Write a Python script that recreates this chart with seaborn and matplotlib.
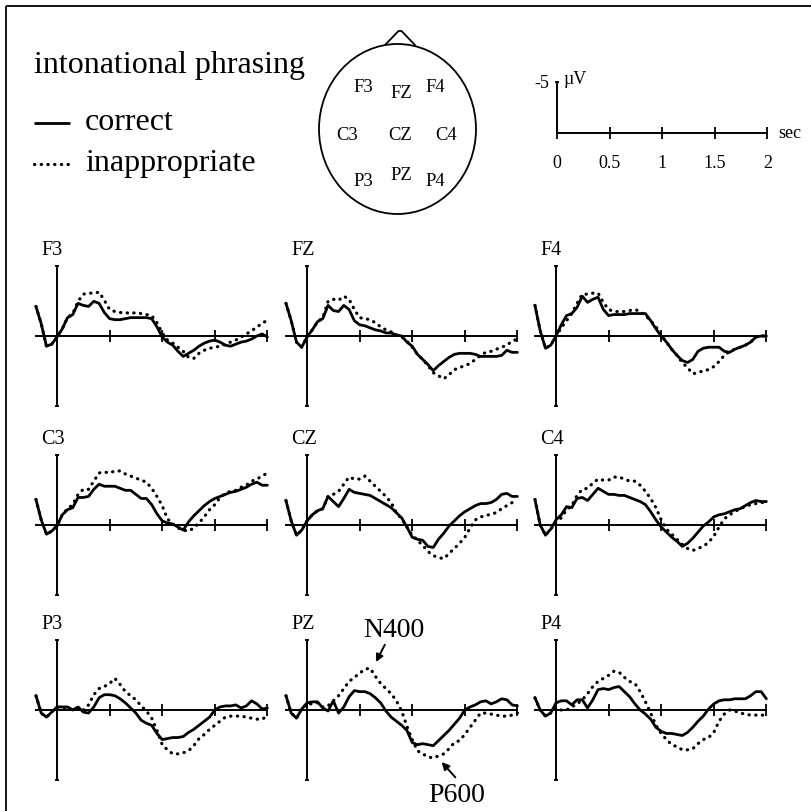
import numpy as np
import pandas as pd
import matplotlib
matplotlib.use('Agg')
import matplotlib.pyplot as plt
import seaborn as sns
from matplotlib.patches import Ellipse, Rectangle


sns.set_theme(style='white')
plt.rcParams['font.family'] = ['Liberation Serif', 'DejaVu Serif']
plt.rcParams.update({'text.color': 'black', 'xtick.color': 'black',
                     'ytick.color': 'black', 'axes.edgecolor': 'black'})

# time axis in seconds, one sample every 50 ms from -200 ms to 2 s
times = np.round(np.linspace(-0.2, 2.0, 45), 2)

# grand average amplitudes in microvolts (negative is plotted up)
f3_correct = [-2.9, -1.2, 1.0, 0.8, 0.1, -0.7, -1.8, -2.1, -3.2, -3.0, -2.9, -3.4, -3.2, -2.3, -1.7,
              -1.6, -1.6, -1.7, -1.8, -1.8, -1.8, -1.8, -1.7, -0.9, 0.1, 0.6, 0.9, 1.5, 2.0, 1.7,
              1.4, 1.0, 0.7, 0.5, 0.4, 0.6, 0.9, 1.0, 0.8, 0.6, 0.5, 0.3, 0.0, -0.2, 0.1]
f3_inapp = [-2.9, -1.2, 1.0, 0.8, 0.1, -0.7, -1.8, -2.2, -3.4, -4.1, -4.2, -4.2, -4.3, -3.5, -2.6,
            -2.4, -2.3, -2.3, -2.2, -2.3, -2.2, -2.1, -2.0, -1.3, -0.3, 0.4, 0.7, 1.1, 1.5, 2.1,
            2.2, 1.7, 1.4, 1.2, 1.1, 1.0, 0.8, 0.6, 0.4, 0.1, -0.2, -0.5, -0.9, -1.2, -1.6]
fz_correct = [-3.2, -1.5, 0.6, 1.1, 0.1, -0.6, -1.4, -1.7, -3.0, -2.5, -2.4, -3.0, -2.6, -1.5, -1.1,
              -1.0, -0.8, -0.6, -0.5, -0.3, -0.3, -0.1, 0.0, 0.6, 1.0, 1.8, 2.3, 2.8, 3.4, 2.9,
              2.5, 2.1, 1.8, 1.7, 1.7, 1.7, 1.8, 2.0, 2.0, 2.0, 2.0, 1.9, 1.4, 1.6, 1.6]
fz_inapp = [-3.2, -1.5, 0.6, 1.1, 0.1, -0.6, -1.4, -1.8, -3.4, -3.6, -3.5, -3.9, -3.6, -2.6, -1.8,
            -1.7, -1.6, -1.3, -0.9, -0.6, -0.4, -0.1, 0.1, 0.5, 1.1, 1.8, 2.3, 2.9, 3.6, 3.9,
            4.2, 3.8, 3.3, 3.1, 2.9, 2.7, 2.3, 1.9, 1.6, 1.5, 1.3, 1.1, 0.9, 0.5, 0.3]
f4_correct = [-3.0, -0.5, 1.2, 0.9, 0.0, -1.1, -2.0, -2.2, -2.8, -3.9, -3.3, -3.6, -3.8, -2.6, -2.0,
              -2.1, -2.1, -2.1, -2.2, -2.2, -2.2, -2.2, -1.5, -0.7, 0.0, 0.6, 1.3, 1.9, 2.4, 2.6,
              2.3, 1.5, 1.2, 1.1, 1.1, 1.1, 1.5, 1.6, 1.3, 1.1, 0.9, 0.6, 0.1, 0.0, 0.0]
f4_inapp = [-3.0, -0.5, 1.2, 0.9, 0.0, -0.8, -1.5, -2.2, -3.2, -4.1, -4.1, -4.2, -4.2, -3.3, -2.6,
            -2.4, -2.4, -2.4, -2.5, -2.6, -2.4, -2.0, -1.5, -0.9, -0.1, 0.6, 1.3, 1.9, 2.6, 3.1,
            3.7, 3.6, 3.4, 3.3, 3.0, 2.5, 1.9, 1.5, 1.3, 1.1, 0.9, 0.6, 0.1, 0.0, 0.0]
c3_correct = [-2.5, -0.5, 0.9, 0.6, 0.1, -1.0, -1.5, -1.7, -2.7, -2.7, -2.8, -3.5, -4.0, -3.8, -3.8,
              -3.8, -3.6, -3.4, -3.4, -3.0, -2.6, -2.6, -2.0, -1.1, -0.4, -0.2, -0.1, 0.2, 0.5, -0.3,
              -0.9, -1.4, -1.9, -2.3, -2.6, -2.8, -3.0, -3.2, -3.3, -3.5, -3.7, -4.0, -4.2, -3.9, -3.9]
c3_inapp = [-2.5, -0.5, 0.9, 0.6, 0.1, -1.0, -1.6, -2.0, -3.0, -3.5, -3.5, -4.3, -5.1, -5.2, -5.1,
            -5.3, -5.3, -5.0, -4.8, -4.6, -4.4, -4.2, -3.6, -2.8, -1.9, -0.6, -0.1, 0.3, 0.5, 0.6,
            0.3, -0.2, -0.8, -1.5, -2.0, -2.7, -3.1, -3.3, -3.4, -3.7, -3.9, -4.3, -4.5, -4.8, -5.1]
cz_correct = [-2.4, -0.4, 1.0, 0.5, -0.4, -1.0, -1.4, -1.6, -2.8, -2.3, -1.8, -2.6, -3.5, -3.2, -3.1,
              -3.0, -2.9, -2.6, -2.3, -2.0, -1.7, -1.2, -0.7, 0.2, 1.2, 1.4, 1.5, 2.1, 2.2, 1.4,
              0.8, 0.1, -0.4, -0.9, -1.3, -1.6, -1.9, -2.1, -2.1, -2.2, -2.5, -3.0, -3.1, -2.8, -2.8]
cz_inapp = [-2.4, -0.4, 1.0, 0.5, -0.4, -1.0, -1.4, -1.6, -2.8, -3.0, -3.3, -4.0, -4.7, -4.5, -4.5,
            -4.8, -4.3, -3.8, -3.3, -2.8, -2.2, -1.2, -0.6, 0.2, 1.0, 1.5, 2.0, 2.6, 3.0, 3.2,
            3.3, 2.8, 2.3, 1.8, 1.2, 0.3, -0.5, -0.8, -0.9, -1.1, -1.2, -1.6, -1.9, -2.2, -2.2]
c4_correct = [-2.5, 0.0, 1.0, 0.4, -0.5, -1.0, -1.8, -1.7, -2.6, -2.7, -2.4, -3.0, -3.6, -3.3, -3.0,
              -3.0, -2.9, -2.9, -2.7, -2.5, -2.3, -2.0, -1.3, -0.5, 0.2, 0.7, 1.2, 1.6, 2.1, 1.8,
              1.3, 0.7, 0.1, -0.3, -0.8, -1.0, -1.1, -1.3, -1.5, -1.6, -1.9, -2.2, -2.4, -2.3, -2.3]
c4_inapp = [-2.5, 0.0, 1.0, 0.4, -0.3, -0.7, -1.5, -1.9, -2.9, -3.5, -3.6, -4.1, -4.5, -4.4, -4.4,
            -4.7, -4.7, -4.5, -4.3, -4.3, -3.9, -3.3, -2.6, -1.7, -0.5, 0.4, 0.9, 1.4, 1.9, 2.3,
            2.5, 2.3, 2.1, 1.7, 1.1, 0.2, -0.6, -1.0, -1.3, -1.6, -1.8, -2.0, -2.1, -2.2, -2.2]
p3_correct = [-1.4, 0.3, 0.7, 0.2, -0.3, -0.3, -0.3, 0.0, -0.3, 0.2, 0.3, -0.3, -1.2, -1.5, -1.5,
              -1.4, -1.1, -0.7, -0.2, 0.3, 1.0, 1.3, 1.5, 2.3, 2.9, 2.8, 2.7, 2.7, 2.6, 2.2,
              1.9, 1.5, 1.1, 0.7, 0.0, -0.3, -0.4, -0.4, -0.5, -0.2, -0.4, -0.9, -0.6, -0.1, -0.2]
p3_inapp = [-1.4, 0.3, 0.7, 0.2, -0.3, -0.2, -0.2, 0.0, -0.2, 0.0, -0.5, -1.5, -2.1, -2.3, -2.6,
            -3.1, -2.5, -1.8, -1.4, -1.0, -0.4, 0.1, 0.8, 2.0, 3.4, 3.9, 4.3, 4.3, 4.2, 4.0,
            3.5, 2.8, 2.4, 1.9, 1.5, 1.1, 0.7, 0.6, 0.6, 0.6, 0.7, 0.8, 0.9, 0.9, 0.6]
pz_correct = [-1.4, 0.3, 0.8, -0.1, -0.7, -0.8, -0.8, -0.2, 0.1, -0.9, 0.3, -0.3, -1.3, -1.9, -1.8,
              -1.8, -1.6, -1.2, -0.7, 0.1, 0.7, 1.1, 1.5, 2.0, 3.2, 3.4, 3.3, 3.4, 3.5, 3.0,
              2.5, 2.0, 1.4, 0.8, 0.0, -0.3, -0.5, -0.8, -0.9, -0.6, -0.8, -1.1, -1.0, -0.5, -0.4]
pz_inapp = [-1.4, 0.3, 0.8, -0.1, -0.6, -0.6, -0.7, -0.3, -0.4, -0.9, -1.4, -2.1, -2.8, -3.2, -3.6,
            -4.0, -4.1, -3.3, -2.6, -2.1, -1.6, -0.9, 0.1, 1.6, 2.9, 4.0, 4.3, 4.6, 4.7, 4.5,
            4.3, 3.8, 3.2, 3.0, 2.4, 1.7, 1.0, 0.3, 0.3, 0.4, 0.5, 0.6, 0.6, 0.5, 0.3]
p4_correct = [-1.2, 0.0, 0.6, 0.3, -0.7, -0.9, -0.9, -0.5, -1.0, -1.0, -0.2, -1.0, -2.0, -2.1, -2.0,
              -2.2, -2.3, -1.8, -1.3, -0.6, 0.0, 0.4, 0.9, 1.7, 2.1, 2.3, 2.3, 2.4, 2.5, 2.2,
              1.7, 1.1, 0.6, -0.1, -0.6, -0.9, -1.0, -1.0, -1.1, -1.1, -1.1, -1.4, -1.8, -1.8, -1.1]
p4_inapp = [-1.2, 0.0, 0.6, 0.3, -0.2, 0.0, 0.0, -0.3, -0.6, -1.0, -1.6, -2.3, -2.8, -3.1, -3.4,
            -3.8, -3.7, -3.2, -2.8, -2.6, -1.8, -0.8, 0.3, 1.5, 2.3, 2.9, 3.4, 3.6, 3.9, 3.9,
            3.8, 3.3, 2.9, 2.7, 2.2, 1.1, 0.4, 0.0, 0.1, 0.3, 0.4, 0.5, 0.5, 0.5, 0.5]

electrodes = ['F3', 'FZ', 'F4', 'C3', 'CZ', 'C4', 'P3', 'PZ', 'P4']
correct = [f3_correct, fz_correct, f4_correct, c3_correct, cz_correct, c4_correct,
           p3_correct, pz_correct, p4_correct]
inappropriate = [f3_inapp, fz_inapp, f4_inapp, c3_inapp, cz_inapp, c4_inapp,
                 p3_inapp, pz_inapp, p4_inapp]
conditions = ['correct', 'inappropriate']

scale_ticks = [0, 0.5, 1, 1.5, 2]
scale_labels = ['0', '0.5', '1', '1.5', '2']
panel_ticks = [0.5, 1.0, 1.5, 2.0]

# long table for seaborn
rows = []
for name, cor, inap in zip(electrodes, correct, inappropriate):
    for cond, vals in zip(conditions, [cor, inap]):
        for t, v in zip(times, vals):
            rows.append((name, cond, t, v))
df = pd.DataFrame(rows, columns=['electrode', 'condition', 'time', 'amplitude'])

# layout (pixels)
W = H = 811
PX_S = 105.2    # pixels per second
PX_UV = 10.2    # pixels per microvolt
V_AX = 6.9      # half height of the amplitude axis in the panels
col_x = [57, 307, 556]
row_y = [336, 525, 710]
DOTS = (0.1, 2.0)

fig = plt.figure(figsize=(8.11, 8.11), dpi=100)
canvas = fig.add_axes([0, 0, 1, 1])
canvas.set_xlim(0, W)
canvas.set_ylim(H, 0)
canvas.axis('off')


def axes_at(x0, y0, tlim, vlim):
    left = x0 + tlim[0] * PX_S
    right = x0 + tlim[1] * PX_S
    top = y0 + vlim[0] * PX_UV
    bottom = y0 + vlim[1] * PX_UV
    ax = fig.add_axes([left / W, 1 - bottom / H, (right - left) / W, (bottom - top) / H])
    ax.set_xlim(*tlim)
    ax.set_ylim(vlim[1], vlim[0])
    ax.patch.set_visible(False)
    ax.spines[['top', 'right']].set_visible(False)
    for s in ('left', 'bottom'):
        ax.spines[s].set_position(('data', 0))
        ax.spines[s].set_linewidth(1.4)
        ax.spines[s].set_color('black')
    return ax


# frame
canvas.add_patch(Rectangle((6, 6), 900, 900, fill=False, lw=1.3, ec='black'))

# title and legend
canvas.text(34, 73, 'intonational phrasing', fontsize=23, va='baseline', ha='left')
canvas.plot([34, 70], [123, 123], color='black', lw=2.0, solid_capstyle='butt')
canvas.plot([34, 70], [164, 164], color='black', lw=2.3, dashes=DOTS,
            dash_capstyle='round')
canvas.text(85, 130, 'correct', fontsize=23, va='baseline', ha='left')
canvas.text(85, 171, 'inappropriate', fontsize=23, va='baseline', ha='left')

# head with electrode sites
canvas.add_patch(Ellipse((397.5, 129), 157, 170, fill=False, lw=1.3, ec='black'))
canvas.plot([385, 398.5, 401.5, 415], [45, 31, 31, 45], color='black', lw=1.3)
head_xy = [(363, 87), (401, 93), (435, 87), (347, 136), (400, 136), (446, 136),
           (363, 182), (401, 176), (435, 182)]
for name, (hx, hy) in zip(electrodes, head_xy):
    canvas.text(hx, hy, name, fontsize=13.4, ha='center', va='center')

# scale bar
sc = axes_at(557, 133, (-0.1, 2.3), (-6.5, 3.0))
sc.spines['left'].set_bounds(-5, 0)
sc.spines['bottom'].set_bounds(0, 2)
sc.set_xticks(scale_ticks, labels=scale_labels)
sc.set_yticks([-5], labels=['-5'])
sc.tick_params(axis='x', direction='inout', length=8.5, width=1.3, bottom=True,
               color='black', labelcolor='black', labelsize=13, pad=11.5)
sc.tick_params(axis='y', direction='inout', length=3, width=1.3, left=True,
               color='black', labelcolor='black', labelsize=13, pad=4)
sc.text(0.06, -4.8, 'µV', fontsize=13, va='baseline', ha='left')
sc.text(2.1, 0, 'sec', fontsize=13, va='center', ha='left')

# ERP panels
for i, name in enumerate(electrodes):
    ax = axes_at(col_x[i % 3], row_y[i // 3], (-0.23, 2.04), (-7.4, 7.4))
    sns.lineplot(data=df[df['electrode'] == name], x='time', y='amplitude',
                 style='condition',
                 dashes={'correct': '', 'inappropriate': DOTS},
                 color='black', linewidth=2.0, estimator=None, legend=False, ax=ax)
    for line in ax.lines:
        line.set_dash_capstyle('round')
        line.set_solid_joinstyle('round')
        line.set_clip_on(False)
        if line.get_linestyle() != '-':
            line.set_linewidth(2.3)
    ax.spines['left'].set_bounds(-V_AX, V_AX)
    ax.spines['bottom'].set_bounds(-0.2, 2.0)
    ax.set_xticks(panel_ticks)
    ax.set_yticks([-V_AX, V_AX])
    ax.tick_params(axis='x', direction='inout', length=8.5, width=1.3, bottom=True,
                   color='black', labelbottom=False)
    ax.tick_params(axis='y', direction='inout', length=3, width=1.3, left=True,
                   color='black', labelleft=False)
    ax.set_xlabel('')
    ax.set_ylabel('')
    ax.text(-0.15, -7.9, name, fontsize=14.5, va='baseline', ha='left')

    if name == 'PZ':
        ax.text(0.83, -7.2, 'N400', fontsize=20, va='baseline', ha='center')
        ax.annotate('', xy=(0.655, -4.7), xytext=(0.74, -6.4),
                    arrowprops=dict(arrowstyle='-|>', color='black', lw=1.4,
                                    mutation_scale=11, shrinkA=0, shrinkB=0))
        ax.text(1.42, 9.0, 'P600', fontsize=20, va='baseline', ha='center')
        ax.annotate('', xy=(1.28, 5.1), xytext=(1.41, 6.6),
                    arrowprops=dict(arrowstyle='-|>', color='black', lw=1.4,
                                    mutation_scale=11, shrinkA=0, shrinkB=0))

fig.savefig('out.png', dpi=100)
